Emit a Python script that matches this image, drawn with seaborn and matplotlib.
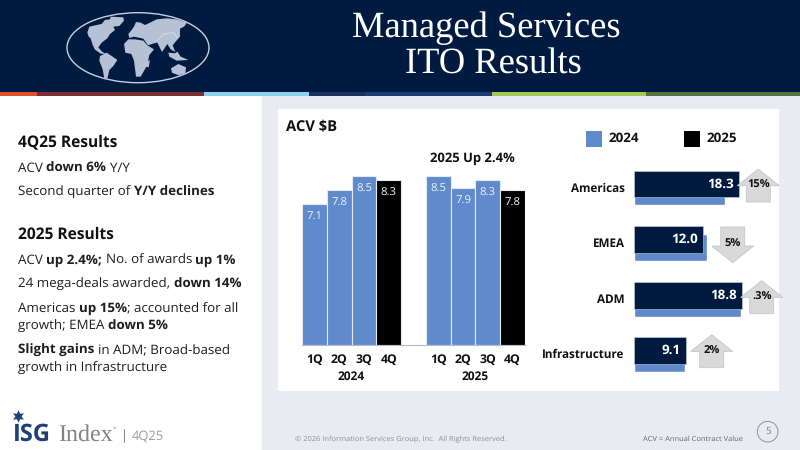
import matplotlib
matplotlib.use("Agg")
import matplotlib.pyplot as plt
from matplotlib.patches import Rectangle, Polygon, Ellipse, Circle
from matplotlib.transforms import ScaledTranslation
import pandas as pd
import seaborn as sns

quarters = ["1Q", "2Q", "3Q", "4Q"]
acv_2024 = [7.1, 7.8, 8.5, 8.3]
acv_2025 = [8.5, 7.9, 8.3, 7.8]
regions = ["Americas", "EMEA", "ADM", "Infrastructure"]
region_2024 = [15.8, 12.7, 18.7, 8.9]
region_2025 = [18.3, 12.0, 18.8, 9.1]
region_change = ["15%", "5%", ".3%", "2%"]
region_up = [True, False, True, True]

NAVY = "#001a40"
BLUE = "#5f8acb"
PANEL = "#e8ebf1"
W, H = 800, 450

sns.set_theme(style="white")
plt.rcParams["font.family"] = ["Open Sans", "DejaVu Sans"]
plt.rcParams["text.hinting"] = "no_hinting"
plt.rcParams["text.hinting_factor"] = 8

fig = plt.figure(figsize=(8, 4.5), dpi=100, facecolor="white")


def axes_px(x0, y0, x1, y1, zorder):
    """Axes placed by pixel box, with y measured from the top edge."""
    ax = fig.add_axes([x0 / W, 1 - y1 / H, (x1 - x0) / W, (y1 - y0) / H], zorder=zorder)
    ax.patch.set_alpha(0)
    return ax


# Page furniture lives on a full-figure canvas in pixel coordinates
bg = axes_px(0, 0, W, H, 0)
bg.set_xlim(0, W)
bg.set_ylim(H, 0)
bg.axis("off")
bg.add_patch(Rectangle((0, 0), W, 92, color=NAVY, lw=0))
strip = [(0, 36.7, "#e2502c"), (36.7, 204, "#7c2f33"), (204, 308.5, "#8fd0ec"),
         (308.5, 365, "#1d2f5c"), (365, 492, "#1f3b75"), (492, 646, "#a3c858"),
         (646, 800, "#56743a")]
for x0, x1, c in strip:
    bg.add_patch(Rectangle((x0, 91.7), x1 - x0, 4, color=c, lw=0))
bg.add_patch(Rectangle((262, 95.7), 538, 354.3, color=PANEL, lw=0))
bg.add_patch(Rectangle((278, 109), 501, 281.7, color="white", lw=0))

# Globe emblem
bg.add_patch(Ellipse((138, 47.7), 142, 70, fc="none", ec="#c5cfe0", lw=1))
land = [
    # North America with Greenland
    [(82, 68), (88, 50), (110, 45), (125, 42), (135, 30), (150, 28), (152, 20), (190, 22),
     (192, 32), (178, 48), (160, 50), (165, 60), (150, 72), (142, 85), (125, 98), (115, 112),
     (125, 124), (137, 132), (122, 131), (105, 119), (98, 105), (92, 85), (86, 80)],
    # South America
    [(120, 138), (140, 128), (158, 140), (172, 150), (160, 168), (148, 180), (142, 206),
     (133, 206), (128, 178), (118, 152)],
    # Africa
    [(192, 102), (205, 88), (225, 88), (250, 92), (262, 106), (282, 118), (268, 135),
     (262, 165), (242, 200), (228, 200), (222, 152), (214, 132), (196, 128)],
    # Eurasia
    [(205, 72), (215, 60), (222, 50), (228, 36), (242, 38), (255, 45), (270, 38), (290, 28),
     (320, 25), (350, 28), (381, 38), (372, 50), (360, 56), (360, 80), (346, 96), (338, 106),
     (346, 126), (332, 118), (322, 102), (306, 126), (292, 98), (282, 100), (264, 106),
     (250, 86), (222, 80), (208, 84)],
    # Madagascar
    [(262, 155), (270, 150), (266, 172), (258, 170)],
    # Australia
    [(333, 175), (355, 162), (378, 172), (376, 190), (356, 196), (336, 188)],
    # Indonesia and the Philippines
    [(325, 128), (345, 130), (352, 125), (362, 140), (385, 150), (350, 152), (328, 140)],
]
for shape in land:
    bg.add_patch(Polygon([(60 + x / 3, 10 + y / 3) for x, y in shape], fc="#b6c1d5", ec="none"))
bg.plot([60 + x / 3 for x in (290, 312, 340, 352)], [10 + y / 3 for y in (92, 72, 68, 84)],
        color="#dfe5ef", lw=0.5)

TITLE_FONT = "Liberation Serif"
bg.text(486.5, 28, "Managed Services", color="white", family=TITLE_FONT, size=26.3, ha="center", va="center")
bg.text(493, 65, "ITO Results", color="white", family=TITLE_FONT, size=26.3, ha="center", va="center")


def rich_line(x, y, runs, size=9.6, color="#1e1e1e"):
    """Write (text, bold) runs one after another along a baseline."""
    rend = fig.canvas.get_renderer()
    probe_a = bg.text(0, 0, "nn", size=size)
    probe_b = bg.text(0, 0, "n n", size=size)
    space = probe_b.get_window_extent(rend).width - probe_a.get_window_extent(rend).width
    probe_a.remove()
    probe_b.remove()
    for i, (text, bold) in enumerate(runs):
        if i and not text.startswith(";"):
            x += space
        t = bg.text(x, y, text, size=size, color=color, fontweight="bold" if bold else "normal",
                    va="baseline", ha="left")
        x += t.get_window_extent(rend).width


rich_line(18, 146, [("4Q25 Results", True)], size=11.2, color="#111111")
rich_line(18, 171.5, [("ACV", False), ("down 6%", True), ("Y/Y", False)])
rich_line(18, 195.5, [("Second quarter of", False), ("Y/Y declines", True)])
rich_line(18, 238.5, [("2025 Results", True)], size=11.2, color="#111111")
rich_line(18, 264, [("ACV", False), ("up 2.4%;", True), ("No. of awards", False), ("up 1%", True)])
rich_line(18, 288, [("24 mega-deals awarded,", False), ("down 14%", True)])
rich_line(18, 312, [("Americas", False), ("up 15%", True), ("; accounted for all", False)])
rich_line(18, 330, [("growth; EMEA", False), ("down 5%", True)])
rich_line(18, 354, [("Slight gains", True), ("in ADM; Broad-based", False)])
rich_line(18, 372, [("growth in Infrastructure", False)])

# Footer and logo
bg.text(12.5, 440.5, "ISG", color="#1f3f78", fontweight="bold", size=17, va="baseline")
bg.plot([18], [416], marker=(6, 1, 0), ms=9, color="#1f3f78", mew=0)
bg.text(58, 440.5, "Index", color="#808488", family="Liberation Serif", size=17.3, va="baseline")
bg.text(112.5, 429, "TM", color="#808488", size=2.2, va="baseline")
bg.plot([124, 124], [429, 442], color="#808488", lw=0.7)
bg.text(132, 440, "4Q25", color="#9a9da1", size=9.3, va="baseline")
bg.text(295, 441, "© 2026 Information Services Group, Inc.  All Rights Reserved.", color="#8b9096", size=5.4, va="baseline")
bg.text(643, 441, "ACV = Annual Contract Value", color="#62666c", size=5.4, va="baseline")
bg.add_patch(Circle((767.7, 431.7), 10.3, fc="none", ec="#8f949b", lw=0.7))
bg.text(767.7, 431.7, "5", color="#7d8289", size=7, ha="center", va="center")

# Quarterly ACV columns, with an empty slot separating the two years
slots = [f"2024 {q}" for q in quarters] + ["gap"] + [f"2025 {q}" for q in quarters]
acv_frame = pd.DataFrame({
    "slot": [f"2024 {q}" for q in quarters] + [f"2025 {q}" for q in quarters],
    "acv": acv_2024 + acv_2025,
    "shade": ["blue", "blue", "blue", "black", "blue", "blue", "blue", "black"],
})
PX_PER_B = 19.9
ax_q = axes_px(302, 110, 525, 345, 1)
sns.barplot(data=acv_frame, x="slot", y="acv", hue="shade", order=slots, dodge=False, width=1.0,
            palette={"blue": BLUE, "black": "#000000"}, saturation=1, edgecolor="#e4eaf4",
            linewidth=0.8, legend=False, ax=ax_q)
ax_q.set_ylim(0, 235 / PX_PER_B)
ax_q.set_xlim(-0.5, 8.5)
ax_q.set_xlabel("")
ax_q.set_ylabel("")
ax_q.set_yticks([])
ax_q.set_xticks(range(9))
ax_q.set_xticklabels(quarters + [""] + quarters, fontweight="bold", fontsize=8.8, color="#111111")
ax_q.tick_params(axis="x", length=0, pad=6.5)
sns.despine(ax=ax_q, left=True)
ax_q.spines["bottom"].set_color("#b5bcc8")
ax_q.spines["bottom"].set_linewidth(0.8)
for i, slot in enumerate(slots):
    if slot == "gap":
        continue
    v = acv_frame.loc[acv_frame["slot"] == slot, "acv"].iloc[0]
    ax_q.annotate(f"{v:.1f}", (i, v), xytext=(0, -9.5), textcoords="offset points", ha="center",
                  va="center", color="#eef1f6", fontsize=8.2)
for year, centre in (("2024", 1.5), ("2025", 6.5)):
    ax_q.annotate(year, (centre, 0), xytext=(0, -23), textcoords="offset points", ha="center",
                  va="center", fontweight="bold", fontsize=8.6, color="#111111")

bg.text(286, 131, "ACV $B", fontweight="bold", size=10.6, color="#111111", va="baseline")
bg.text(472.5, 158.5, "2025 Up 2.4%", fontweight="bold", size=9.4, color="#111111", ha="center", va="center")

# Regional bars: 2024 sits behind 2025, shifted a few pixels down
region_frame = pd.DataFrame({"region": regions, "y2024": region_2024, "y2025": region_2025})
BAR_LEFT, PX_PER_UNIT = 633.7, 5.75
ROW_TOP, ROW_BOTTOM, DROP = 156.2, 378.6, 8
ax_old = axes_px(BAR_LEFT, ROW_TOP + DROP, BAR_LEFT + 20 * PX_PER_UNIT, ROW_BOTTOM + DROP, 1)
ax_new = axes_px(BAR_LEFT, ROW_TOP, BAR_LEFT + 20 * PX_PER_UNIT, ROW_BOTTOM, 1.5)
sns.barplot(data=region_frame, y="region", x="y2024", order=regions, color=BLUE, width=0.48,
            saturation=1, ax=ax_old)
sns.barplot(data=region_frame, y="region", x="y2025", order=regions, color=NAVY, width=0.48,
            saturation=1, edgecolor="#c9d3e3", linewidth=0.4, ax=ax_new)
for ax in (ax_old, ax_new):
    ax.set_xlim(0, 20)
    ax.set_ylim(3.5, -0.5)
    ax.set_xlabel("")
    ax.set_ylabel("")
    ax.set_xticks([])
    sns.despine(ax=ax, left=True, bottom=True)
ax_old.set_yticks([])
ax_new.set_yticks(range(len(regions)))
ax_new.set_yticklabels(regions, fontweight="bold", fontsize=8.4, color="#111111")
ax_new.tick_params(axis="y", length=0, pad=6.5)
# Category names sit slightly below the centre of their bars
nudge = ScaledTranslation(0, -3 / 100, fig.dpi_scale_trans)
for label in ax_new.get_yticklabels():
    label.set_transform(label.get_transform() + nudge)
for i, v in enumerate(region_2025):
    ax_new.annotate(f"{v:.1f}", (v, i), xytext=(-3.6, 0), textcoords="offset points", ha="right",
                    va="center", color="white", fontweight="bold", fontsize=9.6)

# Legend swatches and change arrows drawn above the chart axes
fg = axes_px(0, 0, W, H, 3)
fg.set_xlim(0, W)
fg.set_ylim(H, 0)
fg.axis("off")
for x, colour, label in ((586, BLUE, "2024"), (684, "#000000", "2025")):
    fg.add_patch(Rectangle((x, 131.3), 16, 15.7, color=colour, lw=0))
    fg.text(x + 22, 138.5, label, fontweight="bold", size=9.6, color="#111111", va="center")

arrow_centres = [(758.3, 169), (732.7, 227), (761.7, 280.7), (711.7, 334.7)]
for (cx, top), up, label in zip(arrow_centres, region_up, region_change):
    half_w, half_s, head, total = 21, 12, 16.7, 33
    if up:
        pts = [(cx, top), (cx + half_w, top + head), (cx + half_s, top + head), (cx + half_s, top + total),
               (cx - half_s, top + total), (cx - half_s, top + head), (cx - half_w, top + head)]
        ty = top + 16
    else:
        tip = top + 35.7
        pts = [(cx, tip), (cx + half_w, tip - head), (cx + half_s, tip - head), (cx + half_s, top),
               (cx - half_s, top), (cx - half_s, tip - head), (cx - half_w, tip - head)]
        ty = top + 17.3
    fg.add_patch(Polygon(pts, fc="#d9d9d9", ec="#c4c8ce", lw=0.6))
    fg.text(cx, ty, label, fontweight="bold", size=8, color="#111111", ha="center", va="center")

fig.savefig("out.png", dpi=100)
